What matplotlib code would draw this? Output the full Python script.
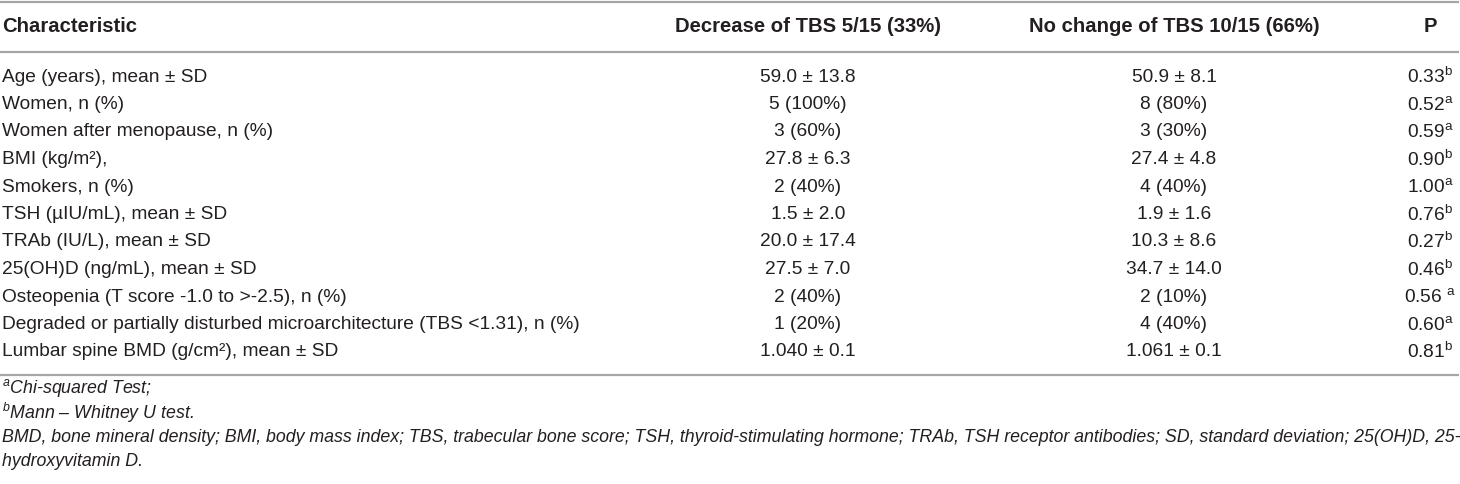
import matplotlib
matplotlib.use("Agg")
import matplotlib.pyplot as plt

plt.rcParams['font.family'] = ['Liberation Sans', 'DejaVu Sans']
plt.rcParams['mathtext.fontset'] = 'custom'
plt.rcParams['mathtext.rm'] = 'Liberation Sans'
plt.rcParams['mathtext.it'] = 'Liberation Sans:italic'
plt.rcParams['mathtext.bf'] = 'Liberation Sans:bold'

headers = ["Characteristic", "Decrease of TBS 5/15 (33%)", "No change of TBS 10/15 (66%)", "P"]

characteristics = [
    "Age (years), mean \u00b1 SD",
    "Women, n (%)",
    "Women after menopause, n (%)",
    "BMI (kg/m\u00b2),",
    "Smokers, n (%)",
    "TSH (\u00b5IU/mL), mean \u00b1 SD",
    "TRAb (IU/L), mean \u00b1 SD",
    "25(OH)D (ng/mL), mean \u00b1 SD",
    "Osteopenia (T score -1.0 to >-2.5), n (%)",
    "Degraded or partially disturbed microarchitecture (TBS <1.31), n (%)",
    "Lumbar spine BMD (g/cm\u00b2), mean \u00b1 SD",
]
decrease = ["59.0 \u00b1 13.8", "5 (100%)", "3 (60%)", "27.8 \u00b1 6.3", "2 (40%)",
            "1.5 \u00b1 2.0", "20.0 \u00b1 17.4", "27.5 \u00b1 7.0", "2 (40%)",
            "1 (20%)", "1.040 \u00b1 0.1"]
no_change = ["50.9 \u00b1 8.1", "8 (80%)", "3 (30%)", "27.4 \u00b1 4.8", "4 (40%)",
             "1.9 \u00b1 1.6", "10.3 \u00b1 8.6", "34.7 \u00b1 14.0", "2 (10%)",
             "4 (40%)", "1.061 \u00b1 0.1"]
p_values = ["0.33", "0.52", "0.59", "0.90", "1.00", "0.76", "0.27", "0.46", "0.56 ", "0.60", "0.81"]
p_tests = ["b", "a", "a", "b", "a", "b", "b", "b", "a", "a", "b"]

footnotes = [
    r"$^{a}$Chi-squared Test;",
    r"$^{b}$Mann " + "\u2013 Whitney U test.",
    "BMD, bone mineral density; BMI, body mass index; TBS, trabecular bone score; TSH, thyroid-stimulating hormone; "
    "TRAb, TSH receptor antibodies; SD, standard deviation; 25(OH)D, 25-",
    "hydroxyvitamin D.",
]

W, H = 1460, 484
fig = plt.figure(figsize=(W / 100, H / 100), dpi=100)
ax = fig.add_axes([0, 0, 1, 1])
ax.set_xlim(0, W)
ax.set_ylim(H, 0)
ax.axis("off")

txt = "#231f20"
rule = "#a6a6a6"
fs = 13.8
fs_head = 14.6
fs_note = 12.8

col_x = [2, 808, 1174, 1430]

# rules
for y in [1.5, 51.5, 375]:
    ax.plot([0, 1459], [y, y], color=rule, lw=1.6, solid_capstyle="butt")

# header
ax.text(col_x[0], 27, headers[0], ha="left", va="center", fontsize=fs_head, fontweight="bold", color=txt)
for x, h in zip(col_x[1:], headers[1:]):
    ax.text(x, 27, h, ha="center", va="center", fontsize=fs_head, fontweight="bold", color=txt)

# body rows
row0, step = 77, 27.5
for i in range(len(characteristics)):
    y = row0 + i * step
    ax.text(col_x[0], y, characteristics[i], ha="left", va="center", fontsize=fs, color=txt)
    ax.text(col_x[1], y, decrease[i], ha="center", va="center", fontsize=fs, color=txt)
    ax.text(col_x[2], y, no_change[i], ha="center", va="center", fontsize=fs, color=txt)
    ax.text(col_x[3], y, p_values[i] + r"$^{\mathrm{" + p_tests[i] + "}}$",
            ha="center", va="center", fontsize=fs, color=txt)

# footnotes
for y, f in zip([388, 413, 438, 462], footnotes):
    ax.text(2, y, f, ha="left", va="center", fontsize=fs_note, style="italic", color=txt)

fig.savefig("out.png", dpi=100)
